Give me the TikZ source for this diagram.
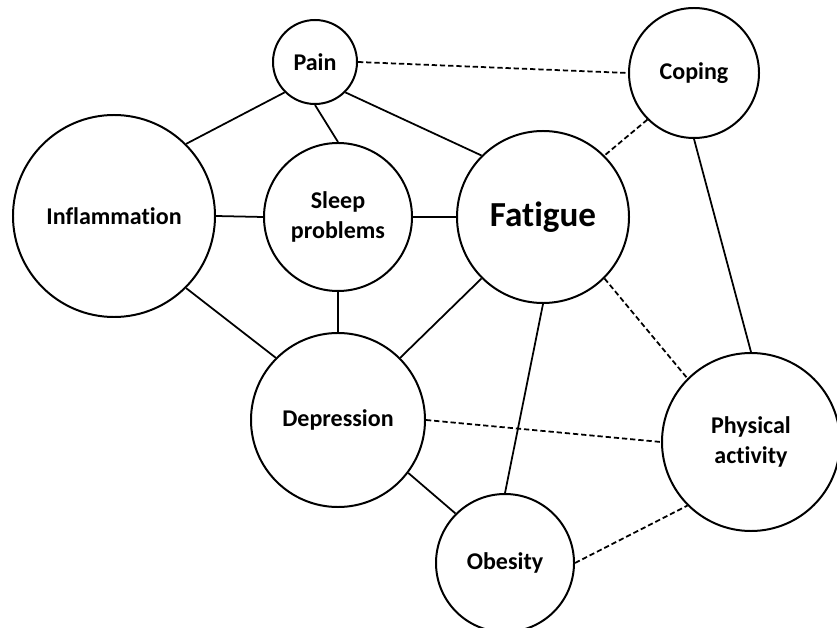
\documentclass[tikz,border=0pt]{standalone}
\usepackage{fontspec}
\setmainfont{Carlito}[Ligatures=NoCommon]

\begin{document}
\begin{tikzpicture}[x=0.03cm,y=-0.03cm,
  factor/.style={draw,circle,line width=1.7pt,inner sep=0pt,align=center,font=\bfseries\fontsize{20.5}{25}\selectfont},
  link/.style={line width=1.5pt},
  weak/.style={line width=1.5pt,dash pattern=on 4.5pt off 2.5pt}]
  \useasboundingbox (0,0) rectangle (837,628);
  \node[factor,minimum size=2.52cm] (pain) at (315,62) {Pain};
  \node[factor,minimum size=3.9cm] (coping) at (694,73) {Coping};
  \node[factor,minimum size=6.06cm] (infl) at (114,216) {Inflammation};
  \node[factor,minimum size=4.44cm] (sleep) at (338,217) {Sleep\\problems};
  \node[factor,minimum size=5.16cm,font=\bfseries\fontsize{30}{34}\selectfont] (fatigue) at (543,217) {Fatigue};
  \node[factor,minimum size=5.22cm] (depr) at (338,420) {Depression};
  \node[factor,minimum size=5.34cm] (phys) at (751,442) {Physical\\activity};
  \node[factor,minimum size=4.14cm] (obes) at (505,563) {Obesity};

  \draw[link] (pain.south west) -- (infl.north east);
  \draw[link] (pain.south) -- (sleep.north);
  \draw[link] (pain.south east) -- (fatigue.north west);
  \draw[weak] (pain.east) -- (coping.west);
  \draw[weak] (coping.south west) -- (fatigue.north east);
  \draw[link] (coping.south) -- (phys.north);
  \draw[link] (infl.east) -- (sleep.west);
  \draw[link] (sleep.east) -- (fatigue.west);
  \draw[link] (infl.south east) -- (depr.north west);
  \draw[link] (sleep.south) -- (depr.north);
  \draw[link] (fatigue.south west) -- (depr.north east);
  \draw[link] (fatigue.south) -- (obes.north);
  \draw[weak] (fatigue.south east) -- (phys.north west);
  \draw[weak] (depr.east) -- (phys.west);
  \draw[link] (depr.-37) -- (obes.north west);
  \draw[weak] (obes.east) -- (phys.south west);
\end{tikzpicture}
\end{document}
